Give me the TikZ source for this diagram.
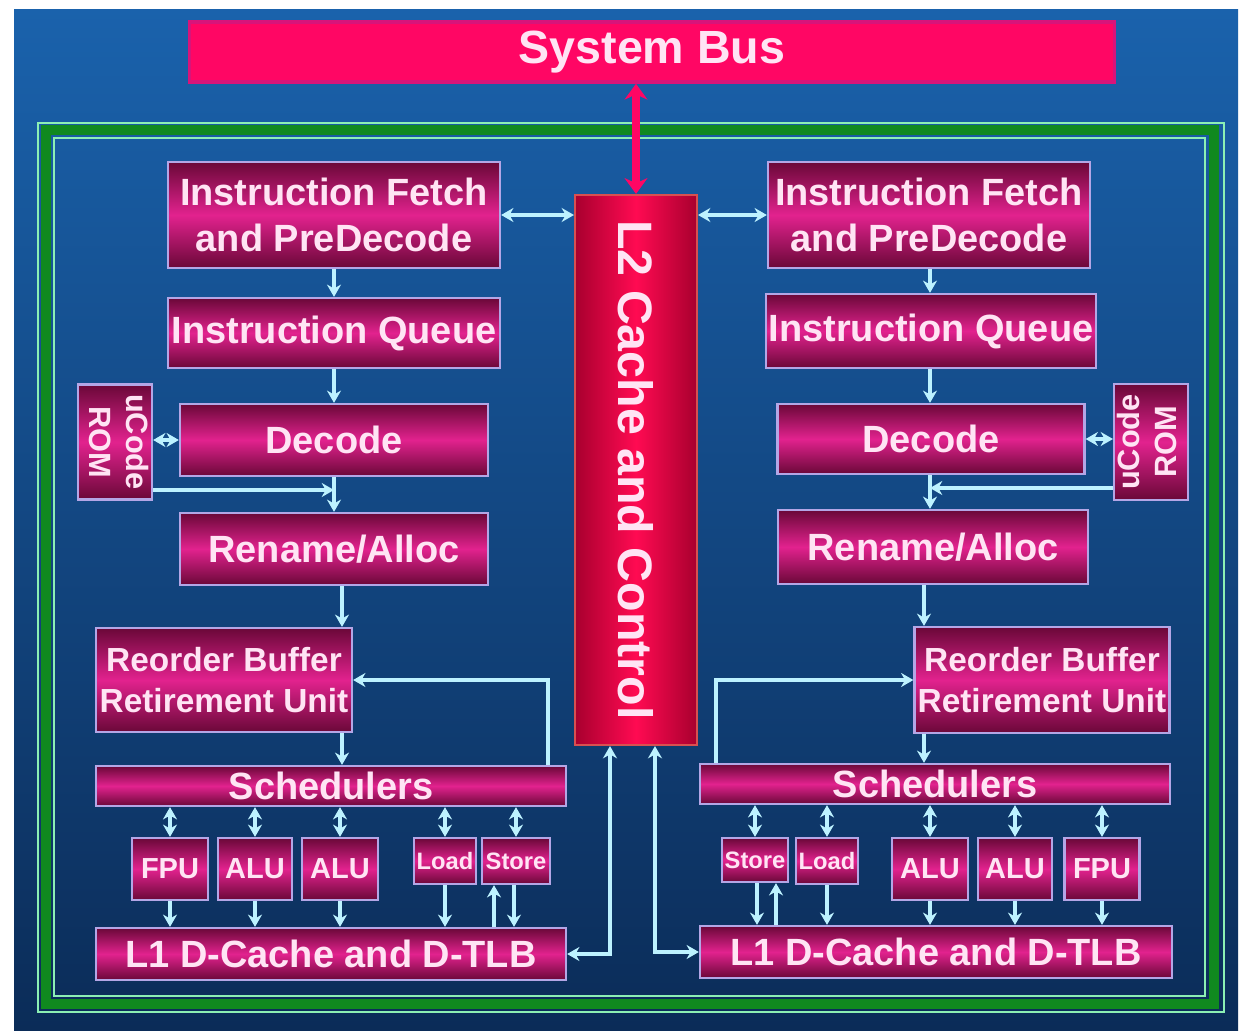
\documentclass[tikz,border=0pt]{standalone}
\usepackage{graphicx}
\usepackage{fontspec}
\setmainfont{Liberation Sans}
\usetikzlibrary{arrows.meta, positioning, calc}
\definecolor{bgTop}{HTML}{1A62AC}
\definecolor{bgBot}{HTML}{0B2C58}
\definecolor{frameDark}{HTML}{10891F}
\definecolor{frameLight}{HTML}{8CF0B4}
\definecolor{boxDark}{HTML}{6A0838}
\definecolor{boxMid}{HTML}{E2228E}
\definecolor{boxEdge}{HTML}{B4A6E6}
\definecolor{txt}{HTML}{FFE4F4}
\definecolor{busRed}{HTML}{FF0664}
\definecolor{busEdge}{HTML}{D8147A}
\definecolor{cacheDark}{HTML}{A8002E}
\definecolor{cacheMid}{HTML}{FF0A52}
\definecolor{cacheEdge}{HTML}{D85050}
\definecolor{wire}{HTML}{BDF2FF}

\begin{document}
\begin{tikzpicture}[x=0.2mm, y=-0.2mm,
    sz/.style 2 args={minimum width=#1*0.2mm, minimum height=#2*0.2mm},
    blk/.style={draw=boxEdge, line width=1.3pt, top color=boxDark, bottom color=boxDark,
      middle color=boxMid, text=txt, inner sep=0pt, align=center,
      font=\bfseries\fontsize{21.6}{26}\selectfont},
    unit/.style={blk, font=\bfseries\fontsize{16.5}{20}\selectfont},
    memu/.style={blk, font=\bfseries\fontsize{13.5}{16}\selectfont},
    rom/.style={blk, font=\bfseries\fontsize{17.5}{21}\selectfont},
    robfont/.style={font=\bfseries\fontsize{19}{23}\selectfont},
    wt/.tip={Stealth[length=7pt, width=8pt]},
    link/.style={draw=wire, line width=2pt, -wt},
    dlink/.style={draw=wire, line width=2pt, wt-wt},
    buslink/.style={draw=busRed, line width=5pt, {Stealth[length=9pt, width=13pt]}-{Stealth[length=9pt, width=13pt]}}]

  \useasboundingbox (0,0) rectangle (1245,1036);
  \fill[white] (0,0) rectangle (1245,1036);
  \fill[top color=bgTop, bottom color=bgBot] (14,9) rectangle (1238,1030);

  % green frame
  \draw[frameDark, line width=5.7pt] (46,130) rectangle (1214,1004);
  \draw[frameLight, line width=1.5pt] (38,123) rectangle (1224,1012);
  \draw[frameLight, line width=1.5pt] (54,138) rectangle (1205,996);

  % bus and shared cache
  \node[sz={925}{60}, fill=busRed, draw=busEdge, line width=2pt, text=txt,
    font=\bfseries\fontsize{26.5}{30}\selectfont] (bus) at (652,52) {System Bus};
  \node[sz={122}{550}, draw=cacheEdge, line width=1.2pt, left color=cacheDark, right color=cacheDark,
    middle color=cacheMid, text=txt, inner sep=0pt,
    font=\bfseries\fontsize{27.5}{30}\selectfont] (l2) at (636,470) {\rotatebox{-90}{L2 Cache and Control}};

  % left core
  \node[blk, sz={332}{106}] (ifL) at (334,215) {Instruction Fetch\\and PreDecode};
  \node[blk, sz={332}{70}] (iqL) at (334,333) {Instruction Queue};
  \node[blk, sz={308}{72}] (decL) at (334,440) {Decode};
  \node[rom, sz={74}{115}] (romL) at (115,442) {\rotatebox{-90}{\begin{tabular}{@{}c@{}}uCode\\ROM\end{tabular}}};
  \node[blk, sz={308}{72}] (renL) at (334,549) {Rename/Alloc};
  \node[blk, robfont, sz={256}{104}] (robL) at (224,680) {Reorder Buffer\\Retirement Unit};
  \node[blk, sz={470}{40}] (schL) at (331,786) {Schedulers};
  \node[unit, sz={76}{62}] (fpuL) at (170,869) {FPU};
  \node[unit, sz={74}{62}] (alu1L) at (255,869) {ALU};
  \node[unit, sz={76}{62}] (alu2L) at (340,869) {ALU};
  \node[memu, sz={62}{46}] (ldL) at (445,861) {Load};
  \node[memu, sz={68}{46}] (stL) at (516,861) {Store};
  \node[blk, sz={470}{52}] (l1L) at (331,954) {L1 D-Cache and D-TLB};

  % right core
  \node[blk, sz={322}{106}] (ifR) at (929,215) {Instruction Fetch\\and PreDecode};
  \node[blk, sz={330}{74}] (iqR) at (931,331) {Instruction Queue};
  \node[blk, sz={307}{70}] (decR) at (931,439) {Decode};
  \node[rom, sz={73}{116}] (romR) at (1151,442) {\rotatebox{90}{\begin{tabular}{@{}c@{}}uCode\\ROM\end{tabular}}};
  \node[blk, sz={310}{74}] (renR) at (933,547) {Rename/Alloc};
  \node[blk, robfont, sz={255}{106}] (robR) at (1042,680) {Reorder Buffer\\Retirement Unit};
  \node[blk, sz={470}{40}] (schR) at (935,784) {Schedulers};
  \node[memu, sz={66}{44}] (stR) at (755,860) {Store};
  \node[memu, sz={62}{46}] (ldR) at (827,861) {Load};
  \node[unit, sz={76}{62}] (alu1R) at (930,869) {ALU};
  \node[unit, sz={74}{62}] (alu2R) at (1015,869) {ALU};
  \node[unit, sz={75}{62}] (fpuR) at (1102,869) {FPU};
  \node[blk, sz={472}{52}] (l1R) at (936,952) {L1 D-Cache and D-TLB};

  % bus to L2
  \draw[buslink] (l2.north |- bus.south) -- (l2.north);

  % left links
  \draw[dlink] (ifL.east) -- (l2.west |- ifL.east);
  \draw[link] (ifL.south) -- (iqL.north);
  \draw[link] (iqL.south) -- (decL.north);
  \draw[dlink] (romL.east |- decL.west) -- (decL.west);
  \draw[link] (decL.south) -- (renL.north);
  \draw[link] (romL.east |- 0,490) -- (334,490);
  \draw[link] (342,0 |- renL.south) -- (342,0 |- robL.north);
  \draw[link] (342,0 |- robL.south) -- (342,0 |- schL.north);
  \draw[link] (548,0 |- schL.north) |- (robL.east);
  \foreach \u in {fpuL,alu1L,alu2L,ldL,stL}
    \draw[dlink] (\u.north |- schL.south) -- (\u.north);
  \foreach \u in {fpuL,alu1L,alu2L,ldL}
    \draw[link] (\u.south) -- (\u.south |- l1L.north);
  \draw[link] (494,0 |- l1L.north) -- (494,0 |- stL.south);
  \draw[link] (514,0 |- stL.south) -- (514,0 |- l1L.north);
  \draw[dlink] (l2.south -| 610,0) |- (l1L.east);

  % right links
  \draw[dlink] (l2.east |- ifR.west) -- (ifR.west);
  \draw[link] (930,0 |- ifR.south) -- (930,0 |- iqR.north);
  \draw[link] (930,0 |- iqR.south) -- (930,0 |- decR.north);
  \draw[dlink] (decR.east) -- (romR.west |- decR.east);
  \draw[link] (930,0 |- decR.south) -- (930,0 |- renR.north);
  \draw[link] (romR.west |- 0,488) -- (930,488);
  \draw[link] (924,0 |- renR.south) -- (924,0 |- robR.north);
  \draw[link] (924,0 |- robR.south) -- (924,0 |- schR.north);
  \draw[link] (716,0 |- schR.north) |- (robR.west);
  \foreach \u in {stR,ldR,alu1R,alu2R,fpuR}
    \draw[dlink] (\u.north |- schR.south) -- (\u.north);
  \foreach \u in {ldR,alu1R,alu2R,fpuR}
    \draw[link] (\u.south) -- (\u.south |- l1R.north);
  \draw[link] (757,0 |- stR.south) -- (757,0 |- l1R.north);
  \draw[link] (776,0 |- l1R.north) -- (776,0 |- stR.south);
  \draw[dlink] (l2.south -| 655,0) |- (l1R.west);
\end{tikzpicture}
\end{document}
